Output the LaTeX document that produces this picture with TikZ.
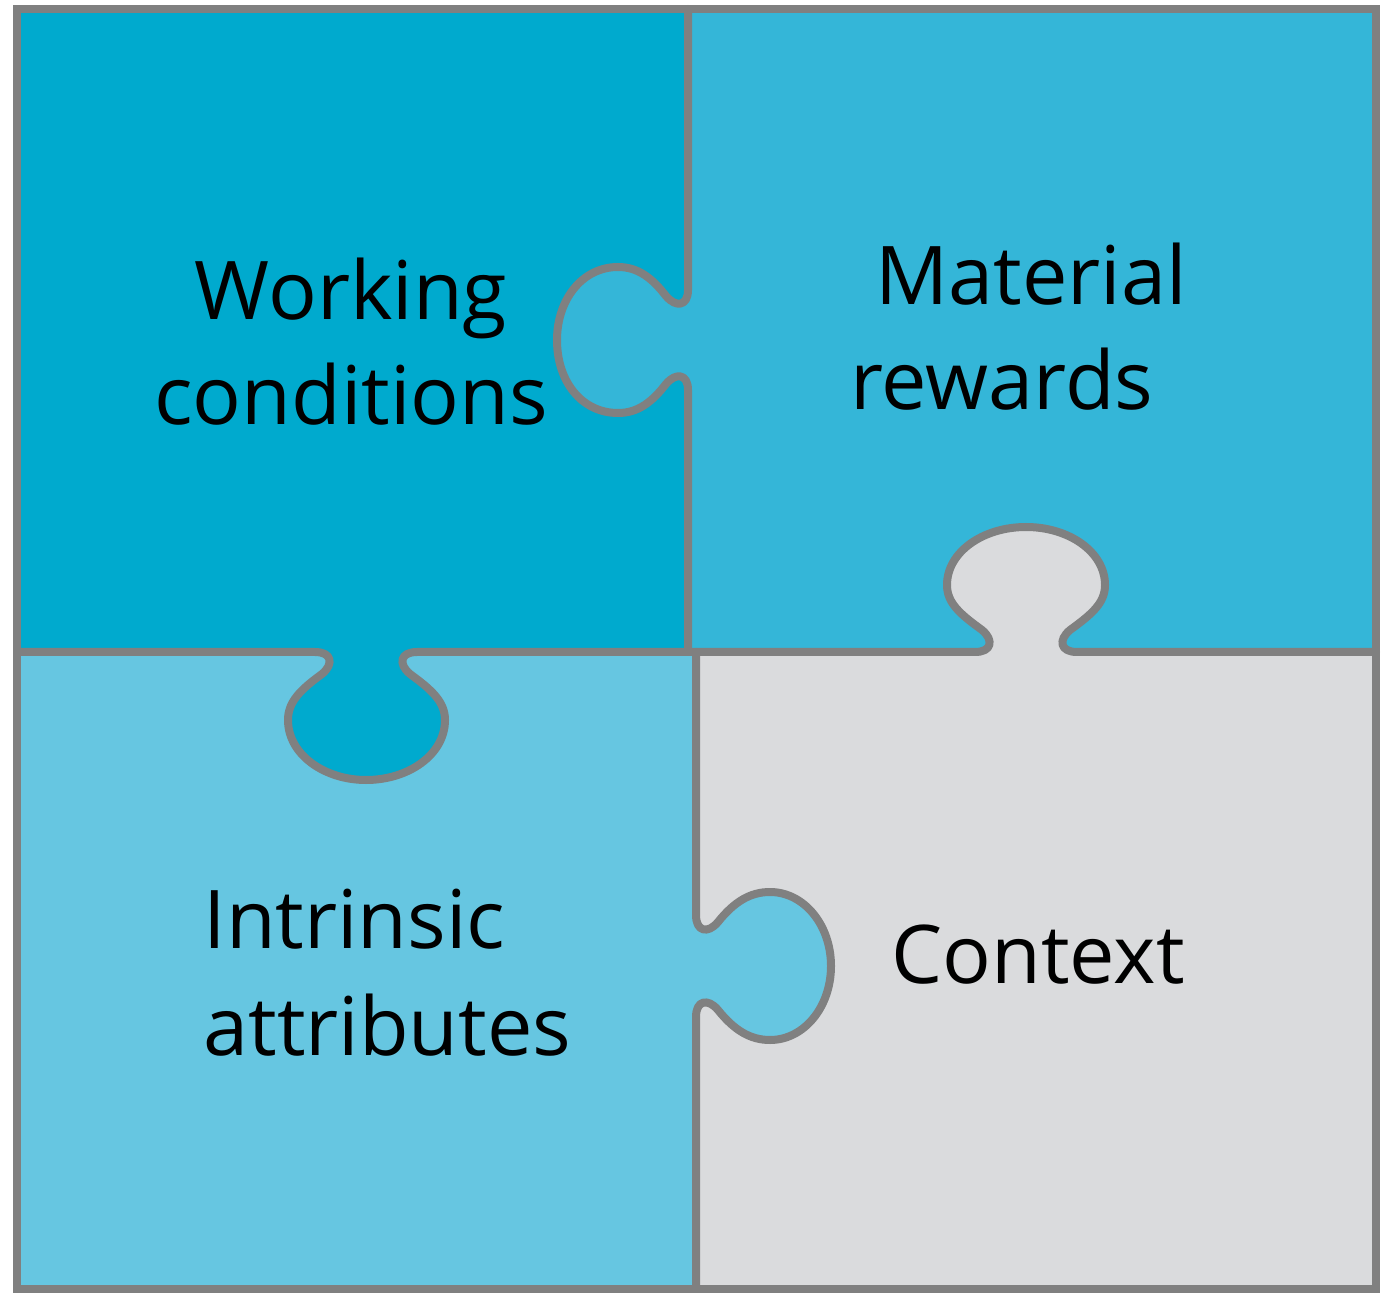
\documentclass[tikz,border=0pt]{standalone}
\usepackage{fontspec}
\setmainfont{Open Sans}
\definecolor{tlcol}{RGB}{0,170,206}
\definecolor{trcol}{RGB}{52,182,216}
\definecolor{blcol}{RGB}{102,198,225}
\definecolor{brcol}{RGB}{218,219,221}
\definecolor{edgecol}{RGB}{128,128,128}
\tikzset{
  edge/.style={draw=edgecol, line width=4pt, line join=round, line cap=round},
  lbl/.style={font=\fontsize{40.5}{50}\selectfont, text=black, inner sep=0pt, anchor=base},
  tabtop/.style={insert path={
    .. controls (688,306) and (676,308) .. (666,296)
    .. controls (652,278) and (638,267) .. (618,267)
    .. controls (582,267) and (557,300) .. (557,340)
    .. controls (557,382) and (582,413) .. (618,413)
    .. controls (638,413) and (652,402) .. (666,384)
    .. controls (676,372) and (688,374) .. (688,390)}},
  tableft/.style={insert path={
    .. controls (332,652) and (334,664) .. (322,674)
    .. controls (300,690) and (288,702) .. (288,720)
    .. controls (288,755) and (325,780) .. (366,780)
    .. controls (408,780) and (445,755) .. (445,720)
    .. controls (445,702) and (432,690) .. (410,674)
    .. controls (398,664) and (400,652) .. (417,652)}},
  tabbot/.style={insert path={
    .. controls (992,652) and (994,640) .. (982,630)
    .. controls (960,614) and (947,603) .. (947,585)
    .. controls (947,552) and (983,527) .. (1026,527)
    .. controls (1069,527) and (1105,552) .. (1105,585)
    .. controls (1105,603) and (1092,614) .. (1070,630)
    .. controls (1058,640) and (1060,652) .. (1077,652)}},
  tabright/.style={insert path={
    .. controls (696,932) and (708,934) .. (718,922)
    .. controls (734,902) and (750,892) .. (770,892)
    .. controls (804,892) and (831,925) .. (831,966)
    .. controls (831,1007) and (804,1040) .. (770,1040)
    .. controls (750,1040) and (734,1030) .. (718,1010)
    .. controls (708,998) and (696,1000) .. (696,1017)}}
}
\begin{document}
\begin{tikzpicture}[x=0.5pt,y=-0.5pt]
\useasboundingbox (0,0) rectangle (1391,1293);
% quadrant fills
\fill[tlcol] (17,9) rectangle (692,652);
\fill[trcol] (688,9) rectangle (1376,652);
\fill[blcol] (17,652) rectangle (696,1289);
\fill[brcol] (696,652) rectangle (1376,1289);
% tab fills
\fill[trcol] (688,290) [tabtop] -- cycle;
\fill[tlcol] (315,652) [tableft] -- cycle;
\fill[brcol] (975,652) [tabbot] -- cycle;
\fill[blcol] (696,915) [tabright] -- cycle;
% dividers
\draw[edge] (688,9) -- (688,290) [tabtop] -- (688,652);
\draw[edge] (17,652) -- (315,652) [tableft] -- (696,652);
\draw[edge] (696,652) -- (975,652) [tabbot] -- (1376,652);
\draw[edge] (696,652) -- (696,915) [tabright] -- (696,1289);
% outer frame
\draw[edge, line cap=butt, line join=miter] (17,9) rectangle (1376,1289);
% labels
\node[lbl] (wc1) at (351,320) {Working};
\node[lbl] (wc2) at (351,425) {conditions};
\node[lbl] (mr1) at (1031,305) {Material};
\node[lbl] (mr2) at (1002,410) {rewards};
\node[lbl, anchor=base west] (ia1) at (203,948) {Intrinsic};
\node[lbl, anchor=base west] (ia2) at (203,1055) {attributes};
\node[lbl] (ctx) at (1038,983) {Context};
\end{tikzpicture}
\end{document}
